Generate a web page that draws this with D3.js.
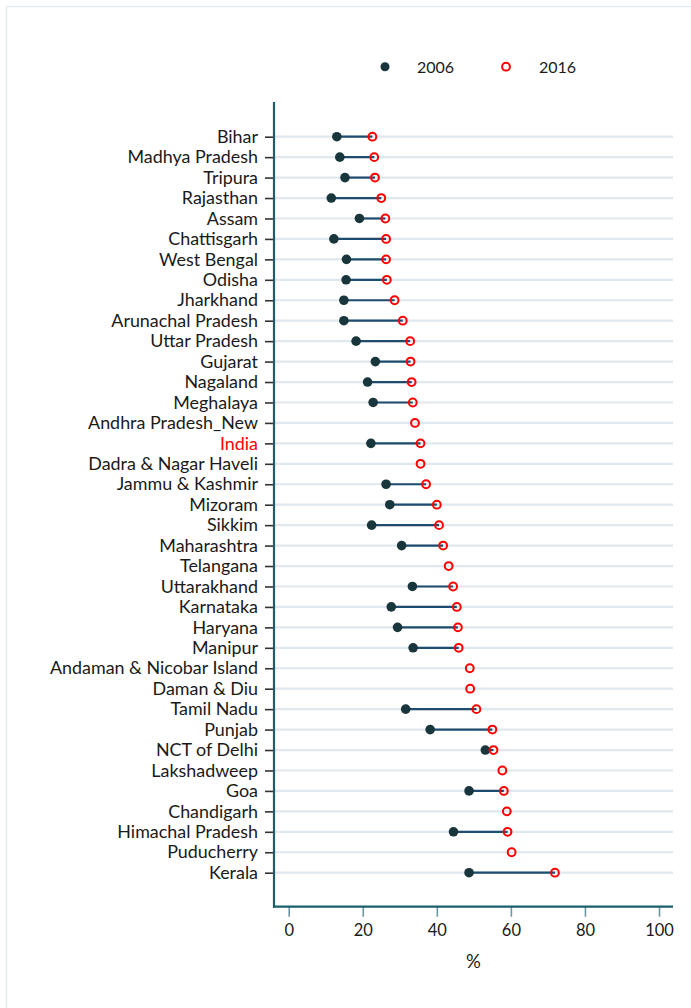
<!DOCTYPE html>
<html><head><meta charset="utf-8">
<script src="https://cdn.jsdelivr.net/npm/d3@7"></script>
<style>html,body{margin:0;padding:0;background:#fff;}svg{display:block;}</style>
</head><body>
<script>
const states = ["Bihar","Madhya Pradesh","Tripura","Rajasthan","Assam","Chattisgarh","West Bengal","Odisha","Jharkhand","Arunachal Pradesh","Uttar Pradesh","Gujarat","Nagaland","Meghalaya","Andhra Pradesh_New","India","Dadra & Nagar Haveli","Jammu & Kashmir","Mizoram","Sikkim","Maharashtra","Telangana","Uttarakhand","Karnataka","Haryana","Manipur","Andaman & Nicobar Island","Daman & Diu","Tamil Nadu","Punjab","NCT of Delhi","Lakshadweep","Goa","Chandigarh","Himachal Pradesh","Puducherry","Kerala"];
const v2006 = [13.0,13.8,15.2,11.5,19.1,12.2,15.6,15.5,14.9,14.9,18.2,23.4,21.3,22.8,null,22.2,null,26.3,27.3,22.4,30.5,null,33.4,27.7,29.4,33.6,null,null,31.6,38.2,53.1,null,48.7,null,44.5,null,48.7];
const v2016 = [22.6,23.1,23.3,25.0,26.1,26.3,26.3,26.5,28.6,30.8,32.8,32.9,33.2,33.5,34.1,35.6,35.6,37.1,40.0,40.6,41.7,43.2,44.4,45.4,45.7,45.9,48.9,49.0,50.7,55.0,55.3,57.7,58.1,58.9,59.1,60.2,71.9];
const xTicks = [0,20,40,60,80,100];
const seriesNames = ["2006","2016"];
const highlight = "India";

const W = 691, H = 1008;
const FONT = "Lato, 'Open Sans', sans-serif";
const svg = d3.select("body").append("svg").attr("width", W).attr("height", H);

// outer frame
svg.append("rect").attr("x",6.5).attr("y",6.5).attr("width",W+10).attr("height",H+10)
  .attr("fill","none").attr("stroke","#e3ecef").attr("stroke-width",1.5);

const plotL = 274, plotR = 673, plotT = 102, plotB = 906.7;
const x = d3.scaleLinear().domain([0,100]).range([288.7,659]);
const y = d3.scalePoint().domain(states).range([136.7,872.7]);

const rows = states.map((s,i)=>({s, a:v2006[i], b:v2016[i]}));

// gridlines
svg.append("g").selectAll("line").data(states).join("line")
  .attr("x1",plotL+1).attr("x2",plotR).attr("y1",d=>y(d)).attr("y2",d=>y(d))
  .attr("stroke","#dfe8ee").attr("stroke-width",2.2);

// y axis
const yAxis = svg.append("g").attr("transform",`translate(${plotL},0)`)
  .call(d3.axisLeft(y).tickSize(9).tickPadding(7));
yAxis.select(".domain").remove();
yAxis.selectAll(".tick line").attr("stroke","#333").attr("stroke-width",1.6);
yAxis.selectAll(".tick text").attr("font-family",FONT).attr("font-size",17.9)
  .attr("fill",d=>d===highlight?"#ff0000":"#1a1a1a");
svg.append("line").attr("x1",plotL).attr("x2",plotL).attr("y1",plotT).attr("y2",plotB+1)
  .attr("stroke","#1b5f6c").attr("stroke-width",2.2);

// x axis
const xAxis = svg.append("g").attr("transform",`translate(0,${plotB})`)
  .call(d3.axisBottom(x).tickValues(xTicks).tickSize(10).tickPadding(8));
xAxis.select(".domain").remove();
xAxis.selectAll(".tick line").attr("stroke","#6a98a3").attr("stroke-width",1.6);
xAxis.selectAll(".tick text").attr("font-family",FONT).attr("font-size",16.5).attr("fill","#1a1a1a");
svg.append("line").attr("x1",plotL-1).attr("x2",plotR).attr("y1",plotB).attr("y2",plotB)
  .attr("stroke","#1b5f6c").attr("stroke-width",2.2);

svg.append("text").attr("x",(plotL+plotR)/2).attr("y",968).attr("text-anchor","middle")
  .attr("font-family",FONT).attr("font-size",18.5).attr("fill","#1a1a1a").text("%");

// segments
const both = rows.filter(r=>r.a!=null && r.b!=null);
svg.append("g").selectAll("line").data(both).join("line")
  .attr("x1",d=>x(d.a)).attr("x2",d=>x(d.b)).attr("y1",d=>y(d.s)).attr("y2",d=>y(d.s))
  .attr("stroke","#1f4b6e").attr("stroke-width",2.2);

// 2006 dots
svg.append("g").selectAll("circle").data(rows.filter(r=>r.a!=null)).join("circle")
  .attr("cx",d=>x(d.a)).attr("cy",d=>y(d.s)).attr("r",4.8).attr("fill","#18363c");
// 2016 circles
svg.append("g").selectAll("circle").data(rows.filter(r=>r.b!=null)).join("circle")
  .attr("cx",d=>x(d.b)).attr("cy",d=>y(d.s)).attr("r",3.9).attr("fill","none")
  .attr("stroke","#ff0000").attr("stroke-width",2);

// legend
const lg = svg.append("g").attr("font-family",FONT).attr("font-size",16).attr("fill","#1a1a1a");
lg.append("circle").attr("cx",385).attr("cy",66.7).attr("r",4.5).attr("fill","#18363c");
lg.append("text").attr("x",417).attr("y",73).text(seriesNames[0]);
lg.append("circle").attr("cx",506).attr("cy",66.7).attr("r",3.9).attr("fill","none").attr("stroke","#ff0000").attr("stroke-width",2);
lg.append("text").attr("x",539).attr("y",73).text(seriesNames[1]);
</script>
</body></html>
